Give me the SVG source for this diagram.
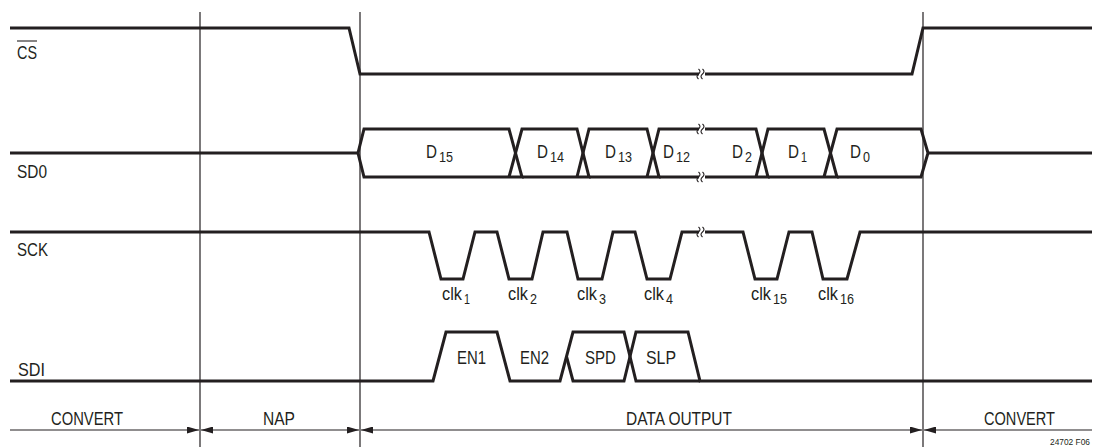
<svg xmlns="http://www.w3.org/2000/svg" width="1093" height="447" viewBox="0 0 1093 447">
<style>
.sig{fill:none;stroke:#231f20;stroke-width:3;stroke-linejoin:miter}
.thin{fill:none;stroke:#231f20;stroke-width:1.2}
.brk{fill:none;stroke:#231f20;stroke-width:1.1}
.gap{fill:#fff;stroke:none}
text{font-family:"Liberation Sans",Arial,sans-serif;font-size:19px;fill:#231f20}
.sub{font-size:14px}
.tiny{font-size:9px}
</style>
<defs>
<marker id="ah" viewBox="0 0 12 7" refX="12" refY="3.5" markerWidth="12" markerHeight="7" markerUnits="userSpaceOnUse" orient="auto-start-reverse">
<path d="M0,0 L12,3.5 L0,7 z" fill="#231f20"/>
</marker>
<path id="bk" d="M-1.5,-5 q3,2.5 0,5 q-3,2.5 0,5 M2.5,-5 q3,2.5 0,5 q-3,2.5 0,5"/>
</defs>

<g id="gridlines">
<line class="thin" x1="200" y1="12" x2="200" y2="447"/>
<line class="thin" x1="360" y1="12" x2="360" y2="447"/>
<line class="thin" x1="923" y1="12" x2="923" y2="447"/>
</g>

<g id="cs">
<text x="17" y="59" textLength="20" lengthAdjust="spacingAndGlyphs">CS</text>
<line x1="17" y1="41" x2="37" y2="41" stroke="#231f20" stroke-width="1.1"/>
<path class="sig" d="M10,28 H349 L360,74 H912 L923,28 H1092"/>
<rect class="gap" x="699" y="68" width="6" height="12"/>
<use href="#bk" class="brk" x="700" y="74"/>
</g>

<g id="sdo">
<text x="17" y="178" textLength="30" lengthAdjust="spacingAndGlyphs">SD0</text>
<path class="sig" d="M10,153 H358"/>
<path class="sig" d="M358,153 L364,129 H509 L522,177 H364 Z"/>
<path class="sig" d="M509,177 L522,129 H577 L589,177 H522"/>
<path class="sig" d="M577,177 L589,129 H647 L659,177 H589"/>
<path class="sig" d="M647,177 L659,129 H756 L768,177 H659"/>
<path class="sig" d="M756,177 L768,129 H824 L837,177 H768"/>
<path class="sig" d="M824,177 L837,129 H921 L928,153 L921,177 H837"/>
<path class="sig" d="M928,153 H1092"/>
<rect class="gap" x="699" y="123" width="6" height="12"/>
<rect class="gap" x="699" y="171" width="6" height="12"/>
<use href="#bk" class="brk" x="700" y="129"/>
<use href="#bk" class="brk" x="700" y="177"/>
<text x="426" y="158" textLength="11" lengthAdjust="spacingAndGlyphs">D</text>
<text class="sub" x="439" y="162" textLength="14" lengthAdjust="spacingAndGlyphs">15</text>
<text x="537" y="158" textLength="11" lengthAdjust="spacingAndGlyphs">D</text>
<text class="sub" x="550" y="162" textLength="14" lengthAdjust="spacingAndGlyphs">14</text>
<text x="605" y="158" textLength="11" lengthAdjust="spacingAndGlyphs">D</text>
<text class="sub" x="618" y="162" textLength="14" lengthAdjust="spacingAndGlyphs">13</text>
<text x="663" y="158" textLength="11" lengthAdjust="spacingAndGlyphs">D</text>
<text class="sub" x="676" y="162" textLength="14" lengthAdjust="spacingAndGlyphs">12</text>
<text x="732" y="158" textLength="11" lengthAdjust="spacingAndGlyphs">D</text>
<text class="sub" x="745" y="162" textLength="7" lengthAdjust="spacingAndGlyphs">2</text>
<text x="788" y="158" textLength="11" lengthAdjust="spacingAndGlyphs">D</text>
<text class="sub" x="801" y="162" textLength="6" lengthAdjust="spacingAndGlyphs">1</text>
<text x="850" y="158" textLength="11" lengthAdjust="spacingAndGlyphs">D</text>
<text class="sub" x="863" y="162" textLength="7" lengthAdjust="spacingAndGlyphs">0</text>
</g>

<g id="sck">
<text x="17" y="256" textLength="31" lengthAdjust="spacingAndGlyphs">SCK</text>
<path class="sig" d="M10,232 H429 L441,279 H463 L475,232 H497 L509,279 H532 L543,232 H567 L578,279 H602 L613,232 H635 L647,279 H670 L682,232 H743 L755,279 H777 L789,232 H812 L823,279 H847 L860,232 H1092"/>
<rect class="gap" x="699" y="226" width="6" height="12"/>
<use href="#bk" class="brk" x="700" y="232"/>
<text x="442" y="300" textLength="20" lengthAdjust="spacingAndGlyphs">clk</text>
<text class="sub" x="464" y="304" textLength="6" lengthAdjust="spacingAndGlyphs">1</text>
<text x="508" y="300" textLength="20" lengthAdjust="spacingAndGlyphs">clk</text>
<text class="sub" x="530" y="304" textLength="7" lengthAdjust="spacingAndGlyphs">2</text>
<text x="577" y="300" textLength="20" lengthAdjust="spacingAndGlyphs">clk</text>
<text class="sub" x="599" y="304" textLength="7" lengthAdjust="spacingAndGlyphs">3</text>
<text x="644" y="300" textLength="20" lengthAdjust="spacingAndGlyphs">clk</text>
<text class="sub" x="666" y="304" textLength="7" lengthAdjust="spacingAndGlyphs">4</text>
<text x="751" y="300" textLength="20" lengthAdjust="spacingAndGlyphs">clk</text>
<text class="sub" x="773" y="304" textLength="14" lengthAdjust="spacingAndGlyphs">15</text>
<text x="818" y="300" textLength="20" lengthAdjust="spacingAndGlyphs">clk</text>
<text class="sub" x="840" y="304" textLength="14" lengthAdjust="spacingAndGlyphs">16</text>
</g>

<g id="sdi">
<text x="18" y="376" textLength="27" lengthAdjust="spacingAndGlyphs">SDI</text>
<path class="sig" d="M10,381 H433 L446,332 H497 L510,381 H560 L573,332 H624 L636,381 H700"/>
<path class="sig" d="M566.5,356.5 L573,381 H624 L636,332 H688 L700,381 H1092"/>
<text x="457" y="364" textLength="29" lengthAdjust="spacingAndGlyphs">EN1</text>
<text x="520" y="364" textLength="29" lengthAdjust="spacingAndGlyphs">EN2</text>
<text x="585" y="364" textLength="31" lengthAdjust="spacingAndGlyphs">SPD</text>
<text x="646" y="364" textLength="30" lengthAdjust="spacingAndGlyphs">SLP</text>
</g>

<g id="connectors">
<line class="thin" x1="10" y1="430" x2="199" y2="430" marker-end="url(#ah)"/>
<line class="thin" x1="201" y1="430" x2="359" y2="430" marker-start="url(#ah)" marker-end="url(#ah)"/>
<line class="thin" x1="361" y1="430" x2="922" y2="430" marker-start="url(#ah)" marker-end="url(#ah)"/>
<line class="thin" x1="924" y1="430" x2="1092" y2="430" marker-start="url(#ah)"/>
</g>

<g id="phases">
<text x="51" y="425" textLength="72" lengthAdjust="spacingAndGlyphs">CONVERT</text>
<text x="263" y="425" textLength="32" lengthAdjust="spacingAndGlyphs">NAP</text>
<text x="626" y="425" textLength="106" lengthAdjust="spacingAndGlyphs">DATA OUTPUT</text>
<text x="984" y="425" textLength="71" lengthAdjust="spacingAndGlyphs">CONVERT</text>
<text class="tiny" x="1050" y="445" textLength="40" lengthAdjust="spacingAndGlyphs">24702 F06</text>
</g>
</svg>
